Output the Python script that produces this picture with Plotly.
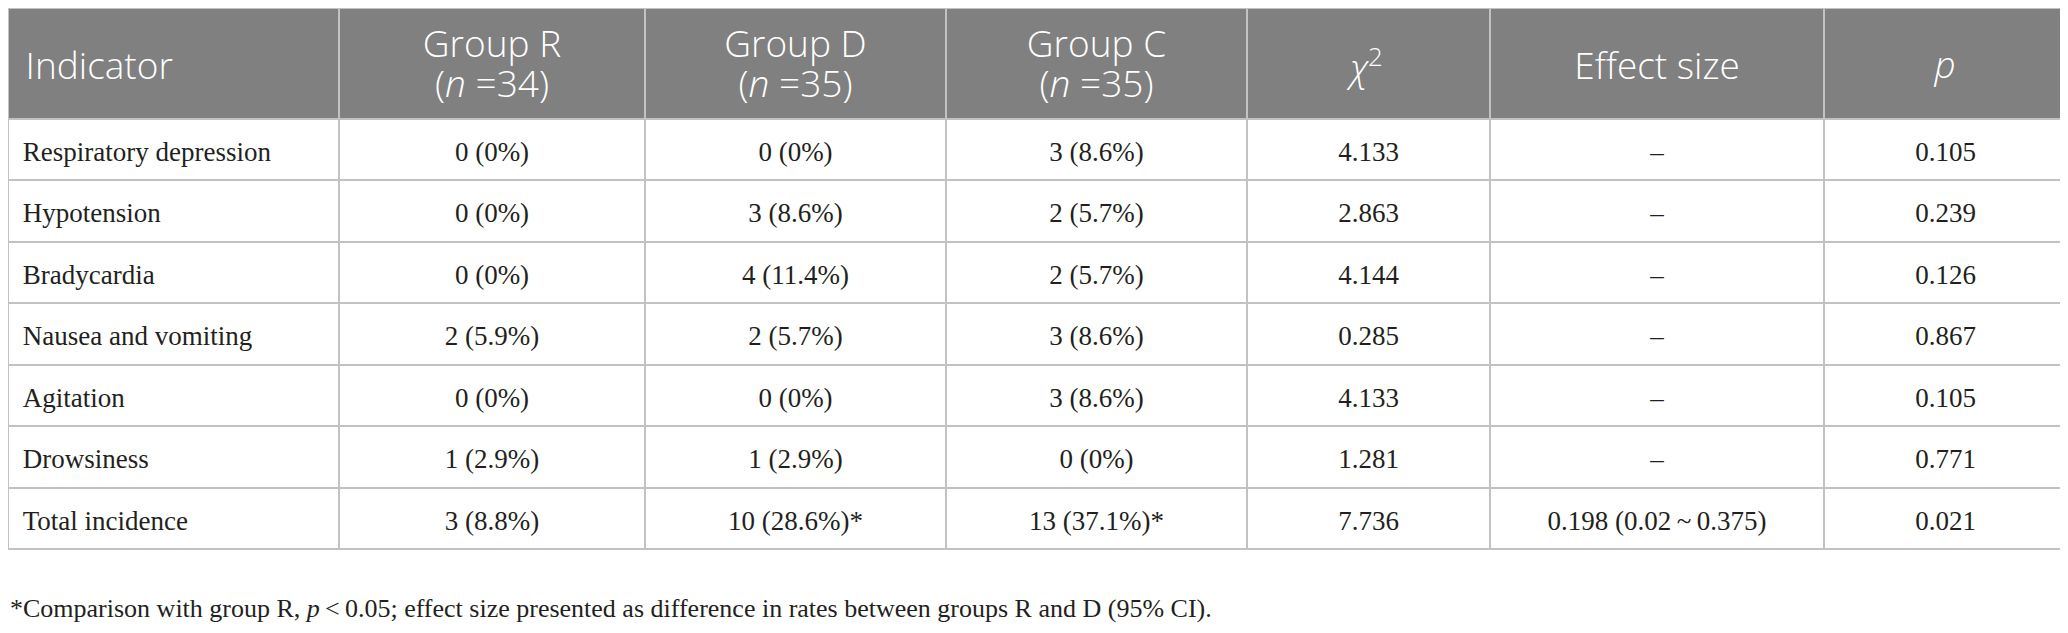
import plotly.graph_objects as go

# ---- data -------------------------------------------------------------
indicators = [
    "Respiratory depression",
    "Hypotension",
    "Bradycardia",
    "Nausea and vomiting",
    "Agitation",
    "Drowsiness",
    "Total incidence",
]
group_r = ["0 (0%)", "0 (0%)", "0 (0%)", "2 (5.9%)", "0 (0%)", "1 (2.9%)", "3 (8.8%)"]
group_d = ["0 (0%)", "3 (8.6%)", "4 (11.4%)", "2 (5.7%)", "0 (0%)", "1 (2.9%)", "10 (28.6%)*"]
group_c = ["3 (8.6%)", "2 (5.7%)", "2 (5.7%)", "3 (8.6%)", "3 (8.6%)", "0 (0%)", "13 (37.1%)*"]
chi2 = ["4.133", "2.863", "4.144", "0.285", "4.133", "1.281", "7.736"]
effect = ["–", "–", "–", "–", "–", "–", "0.198 (0.02\u2009~\u20090.375)"]
p_vals = ["0.105", "0.239", "0.126", "0.867", "0.105", "0.771", "0.021"]

group_names = ["Group R", "Group D", "Group C"]
group_n = [34, 35, 35]
header_plain = ["Indicator", "", "", "", "", "Effect size", ""]
header_math = ["", "", "", "", "<i>χ</i><sup>2</sup>", "", "<i>p</i>"]

footnote = ("*Comparison with group R, <i>p</i>\u2009<\u20090.05; effect size presented as "
            "difference in rates between groups R and D (95% CI).")

# ---- layout constants -------------------------------------------------
W, H = 2060, 625
col_widths = [331, 306, 301, 301, 243, 334, 243]
HEAD_H = 111
ROW_H = 61.43
HEAD_FONT = dict(family="Open Sans", size=37, color="#ffffff", weight=300)
BODY_FONT = dict(family="Liberation Serif", size=27, color="#231f20")
GRID = "#c2c2c2"
CLEAR = "rgba(0,0,0,0)"
align = ["left"] + ["center"] * 6
x_dom = [0, (W - 1) / W]
n_rows = len(indicators)


def top_domain(top_px):
    return dict(x=x_dom, y=[0, 1 - top_px / H])


def text_layer(values, top_px, height, font):
    # transparent header-only table, used to place one line of header text
    return go.Table(
        columnwidth=col_widths,
        header=dict(values=values, fill_color=CLEAR, line=dict(color=CLEAR, width=0),
                    align=align, font=font, height=height),
        cells=dict(values=[[] for _ in col_widths], fill_color=CLEAR,
                   line=dict(color=CLEAR, width=0)),
        domain=top_domain(top_px),
    )


fig = go.Figure()

# grid + fills
fig.add_trace(go.Table(
    columnwidth=col_widths,
    header=dict(values=[""] * 7, fill_color="#808080", line=dict(color=GRID, width=2),
                height=HEAD_H),
    cells=dict(values=[[""] * n_rows for _ in col_widths], fill_color="#ffffff",
               line=dict(color=GRID, width=2), height=ROW_H),
    domain=top_domain(0),
))

# body text (plain single-line header labels ride in its header)
body_shift = 13.75
plain_top = 35.25
fig.add_trace(go.Table(
    columnwidth=col_widths,
    header=dict(values=["\u00a0" + header_plain[0]] + header_plain[1:], fill_color=CLEAR,
                line=dict(color=CLEAR, width=0), align=align, font=HEAD_FONT,
                height=HEAD_H + body_shift - plain_top),
    cells=dict(values=[["\u00a0" + s for s in indicators], group_r, group_d, group_c,
                       chi2, effect, p_vals],
               fill_color=CLEAR, line=dict(color=CLEAR, width=0), align=align,
               font=BODY_FONT, height=ROW_H),
    domain=top_domain(plain_top),
))

# two-line group headers
fig.add_trace(text_layer([""] + group_names + [""] * 3, 13.25, 60, HEAD_FONT))
fig.add_trace(text_layer([""] + [f"(<i>n</i> ={n})" for n in group_n] + [""] * 3,
                         41.45, 60, HEAD_FONT))
# chi-square / p labels
fig.add_trace(text_layer(header_math, 21.7, 60, HEAD_FONT))

fig.add_annotation(
    text=footnote,
    xref="paper", yref="paper",
    x=0, y=(H - 600) / H,
    xanchor="left", yanchor="middle",
    showarrow=False,
    font=dict(family="Liberation Serif", size=26, color="#231f20"),
)

fig.update_layout(
    width=W,
    height=H,
    margin=dict(l=0, r=0, t=0, b=0),
    paper_bgcolor="#ffffff",
)

fig.write_html("out.html")
